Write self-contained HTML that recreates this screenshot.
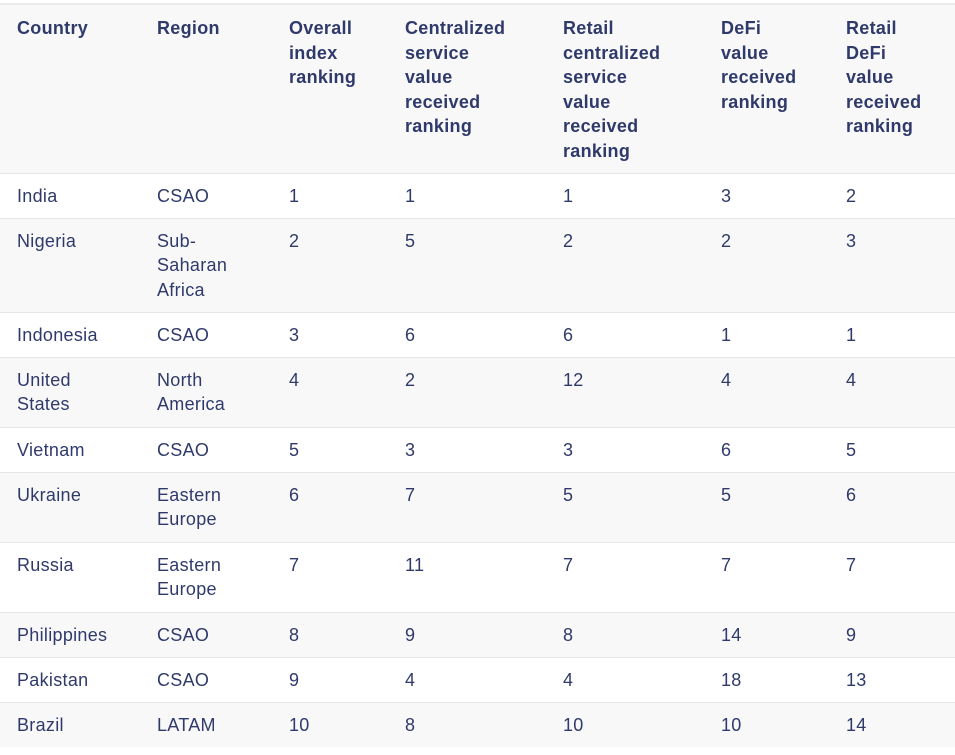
<!DOCTYPE html>
<html><head><meta charset="utf-8"><style>
body{margin:0;background:#fff;width:955px;height:755px;overflow:hidden;font-family:"Liberation Sans",sans-serif;color:#2f3a6b;}
table{position:absolute;left:0;top:3px;border-collapse:collapse;width:955px;table-layout:fixed;font-size:18px;line-height:24.5px;letter-spacing:0.3px;}
td,th{padding:10px 5px 0 17px;vertical-align:top;text-align:left;border-top:1px solid #e6e6ea;white-space:nowrap;overflow:hidden;box-sizing:border-box}
th{font-weight:bold;background:#f8f8f9;height:169px;padding-top:11px;border-top:2px solid #ebebee}
tr:nth-child(odd) td{background:#f8f8f9}
tr.r1 td{height:45px}tr.r2 td{height:70px}tr.r3 td{height:94px}
</style></head><body>
<table>
<colgroup><col style="width:140px"><col style="width:132px"><col style="width:116px"><col style="width:158px"><col style="width:158px"><col style="width:125px"><col style="width:126px"></colgroup>
<tr><th>Country</th><th>Region</th><th>Overall<br>index<br>ranking</th><th>Centralized<br>service<br>value<br>received<br>ranking</th><th>Retail<br>centralized<br>service<br>value<br>received<br>ranking</th><th>DeFi<br>value<br>received<br>ranking</th><th>Retail<br>DeFi<br>value<br>received<br>ranking</th></tr>
<tr class="r1"><td>India</td><td>CSAO</td><td>1</td><td>1</td><td>1</td><td>3</td><td>2</td></tr>
<tr class="r3"><td>Nigeria</td><td>Sub-<br>Saharan<br>Africa</td><td>2</td><td>5</td><td>2</td><td>2</td><td>3</td></tr>
<tr class="r1"><td>Indonesia</td><td>CSAO</td><td>3</td><td>6</td><td>6</td><td>1</td><td>1</td></tr>
<tr class="r2"><td>United<br>States</td><td>North<br>America</td><td>4</td><td>2</td><td>12</td><td>4</td><td>4</td></tr>
<tr class="r1"><td>Vietnam</td><td>CSAO</td><td>5</td><td>3</td><td>3</td><td>6</td><td>5</td></tr>
<tr class="r2"><td>Ukraine</td><td>Eastern<br>Europe</td><td>6</td><td>7</td><td>5</td><td>5</td><td>6</td></tr>
<tr class="r2"><td>Russia</td><td>Eastern<br>Europe</td><td>7</td><td>11</td><td>7</td><td>7</td><td>7</td></tr>
<tr class="r1"><td>Philippines</td><td>CSAO</td><td>8</td><td>9</td><td>8</td><td>14</td><td>9</td></tr>
<tr class="r1"><td>Pakistan</td><td>CSAO</td><td>9</td><td>4</td><td>4</td><td>18</td><td>13</td></tr>
<tr class="r1"><td>Brazil</td><td>LATAM</td><td>10</td><td>8</td><td>10</td><td>10</td><td>14</td></tr>
</table>
</body></html>
